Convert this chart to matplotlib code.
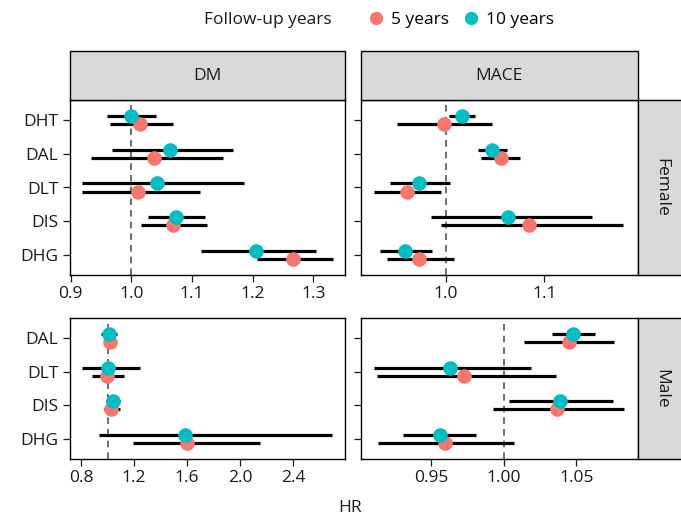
import matplotlib
matplotlib.use("Agg")
from matplotlib import pyplot as plt
from matplotlib.lines import Line2D
from matplotlib.patches import Rectangle

plt.rcParams['font.family'] = ['Open Sans', 'DejaVu Sans']

# female panels: rows top to bottom
female_rows = ["DHT", "DAL", "DLT", "DIS", "DHG"]
male_rows = ["DAL", "DLT", "DIS", "DHG"]

# DM female
dm_f_hr5 = [1.015, 1.037, 1.011, 1.069, 1.267]
dm_f_lo5 = [0.965, 0.934, 0.919, 1.016, 1.207]
dm_f_hi5 = [1.068, 1.151, 1.113, 1.125, 1.333]
dm_f_hr10 = [0.999, 1.063, 1.043, 1.073, 1.206]
dm_f_lo10 = [0.959, 0.968, 0.919, 1.028, 1.115]
dm_f_hi10 = [1.040, 1.167, 1.185, 1.121, 1.304]

# MACE female
mace_f_hr5 = [0.998, 1.056, 0.961, 1.084, 0.973]
mace_f_lo5 = [0.951, 1.036, 0.927, 0.995, 0.940]
mace_f_hi5 = [1.047, 1.075, 0.995, 1.180, 1.008]
mace_f_hr10 = [1.016, 1.047, 0.973, 1.063, 0.959]
mace_f_lo10 = [1.003, 1.033, 0.943, 0.985, 0.933]
mace_f_hi10 = [1.030, 1.062, 1.004, 1.148, 0.986]

# DM male
dm_m_hr5 = [1.020, 0.995, 1.025, 1.597]
dm_m_lo5 = [0.980, 0.883, 0.971, 1.188]
dm_m_hi5 = [1.060, 1.126, 1.091, 2.150]
dm_m_hr10 = [1.007, 1.003, 1.040, 1.584]
dm_m_lo10 = [0.950, 0.810, 0.991, 0.932]
dm_m_hi10 = [1.071, 1.246, 1.091, 2.695]

# MACE male
mace_m_hr5 = [1.045, 0.973, 1.037, 0.960]
mace_m_lo5 = [1.014, 0.913, 0.993, 0.914]
mace_m_hi5 = [1.076, 1.036, 1.083, 1.007]
mace_m_hr10 = [1.048, 0.963, 1.039, 0.956]
mace_m_lo10 = [1.033, 0.911, 1.004, 0.931]
mace_m_hi10 = [1.063, 1.019, 1.075, 0.981]

c5 = '#F8766D'
c10 = '#00BFC4'
strip_col = '#D9D9D9'
txt_col = '#1a1a1a'
fs = 12.5
W, H = 681, 515


def px_rect(x0, y0, x1, y1):
    # pixel box (top-left origin) -> figure fraction rect
    return [x0 / W, 1 - y1 / H, (x1 - x0) / W, (y1 - y0) / H]


def panel(ax, rows, s5, s10, xlim, ticks, ticklabels, ylim, show_y):
    n = len(rows)
    ys = [n - 1 - i for i in range(n)]
    d = 0.125
    ax.axvline(1.0, color='#555555', lw=1.2, ls=(0, (4, 3)), zorder=1)
    for (hr, lo, hi), off in ((s5, -d), (s10, d)):
        for y, l, h in zip(ys, lo, hi):
            ax.plot([l, h], [y + off, y + off], color='black', lw=2.3,
                    solid_capstyle='butt', zorder=2)
    ax.scatter(s5[0], [y - d for y in ys], s=110, color=c5, zorder=3, lw=0)
    ax.scatter(s10[0], [y + d for y in ys], s=110, color=c10, zorder=4, lw=0)
    ax.set_xlim(*xlim)
    ax.set_ylim(*ylim)
    ax.set_xticks(ticks)
    ax.set_xticklabels(ticklabels)
    ax.set_yticks(ys)
    if show_y:
        ax.set_yticklabels(rows)
    else:
        ax.set_yticklabels([])
        ax.tick_params(axis='y', length=0)
    ax.tick_params(labelsize=fs, colors=txt_col, length=5, width=0.9,
                   pad=3)
    for sp in ax.spines.values():
        sp.set_linewidth(1.0)
        sp.set_color('black')


fig = plt.figure(figsize=(6.81, 5.15), dpi=100)

ax1 = fig.add_axes(px_rect(69.5, 100, 345.5, 275))
ax2 = fig.add_axes(px_rect(361, 100, 637.5, 275))
ax3 = fig.add_axes(px_rect(69.5, 318, 345.5, 459))
ax4 = fig.add_axes(px_rect(361, 318, 637.5, 459))

panel(ax1, female_rows, (dm_f_hr5, dm_f_lo5, dm_f_hi5),
      (dm_f_hr10, dm_f_lo10, dm_f_hi10), (0.898, 1.353),
      [0.9, 1.0, 1.1, 1.2, 1.3], ['0.9', '1.0', '1.1', '1.2', '1.3'],
      (-0.6, 4.6), True)
panel(ax2, female_rows, (mace_f_hr5, mace_f_lo5, mace_f_hi5),
      (mace_f_hr10, mace_f_lo10, mace_f_hi10), (0.914, 1.1945),
      [1.0, 1.1], ['1.0', '1.1'], (-0.6, 4.6), False)
panel(ax3, male_rows, (dm_m_hr5, dm_m_lo5, dm_m_hi5),
      (dm_m_hr10, dm_m_lo10, dm_m_hi10), (0.712, 2.795),
      [0.8, 1.2, 1.6, 2.0, 2.4], ['0.8', '1.2', '1.6', '2.0', '2.4'],
      (-0.6, 3.6), True)
panel(ax4, male_rows, (mace_m_hr5, mace_m_lo5, mace_m_hi5),
      (mace_m_hr10, mace_m_lo10, mace_m_hi10), (0.902, 1.092),
      [0.95, 1.0, 1.05], ['0.95', '1.00', '1.05'], (-0.6, 3.6), False)

# strips
for (x0, x1), lab in (((69.5, 345.5), 'DM'), ((361, 637.5), 'MACE')):
    r = px_rect(x0, 51, x1, 100)
    fig.patches.append(Rectangle((r[0], r[1]), r[2], r[3], transform=fig.transFigure,
                                 facecolor=strip_col, edgecolor='black', lw=1.0))
    fig.text(r[0] + r[2] / 2, r[1] + r[3] / 2, lab, ha='center', va='center',
             fontsize=fs, color=txt_col)
for (y0, y1), lab in (((100, 275), 'Female'), ((318, 459), 'Male')):
    r = px_rect(637.5, y0, 690, y1)
    fig.patches.append(Rectangle((r[0], r[1]), r[2], r[3], transform=fig.transFigure,
                                 facecolor=strip_col, edgecolor='black', lw=1.0))
    fig.text(661 / W, r[1] + r[3] / 2, lab, ha='center', va='center',
             rotation=-90, fontsize=fs, color=txt_col)

fig.text(350 / W, 1 - 508 / H, 'HR', ha='center', va='center', fontsize=fs,
         color=txt_col)

# legend
fig.text(204 / W, 1 - 20 / H, 'Follow-up years', ha='left', va='center',
         fontsize=fs, color=txt_col)
handles = [Line2D([], [], marker='o', ls='', color=c5, markersize=9.5, mew=0),
           Line2D([], [], marker='o', ls='', color=c10, markersize=9.5, mew=0)]
fig.legend(handles, ['5 years', '10 years'], loc='center left',
           bbox_to_anchor=(369 / W, 1 - 20 / H), ncol=2, frameon=False,
           fontsize=fs, handlelength=0.8, handletextpad=0.45,
           columnspacing=0.9, borderaxespad=0, borderpad=0)

fig.savefig('out.png', dpi=100)
